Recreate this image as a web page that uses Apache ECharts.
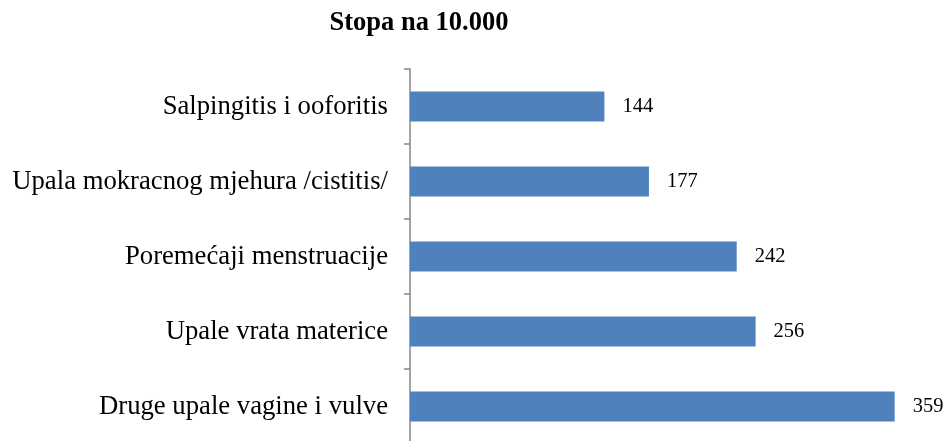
<!DOCTYPE html>
<html>
<head>
<meta charset="utf-8">
<script src="https://cdn.jsdelivr.net/npm/echarts@6/dist/echarts.min.js"></script>
<style>html,body{margin:0;padding:0;background:#fff}#c{width:949px;height:441px}</style>
</head>
<body>
<div id="c"></div>
<script>
const titleText = 'Stopa na 10.000';
const categories = ['Salpingitis i ooforitis', 'Upala mokracnog mjehura /cistitis/', 'Poremećaji menstruacije', 'Upale vrata materice', 'Druge upale vagine i vulve'];
const values = [144, 177, 242, 256, 359];

const serif = '"Liberation Serif", "Times New Roman", serif';
const chart = echarts.init(document.getElementById('c'), null, {renderer: 'canvas'});
chart.setOption({
  animation: false,
  backgroundColor: '#ffffff',
  title: {
    text: titleText,
    left: 414,
    top: 5,
    textAlign: 'center',
    textStyle: {fontFamily: serif, fontWeight: 'bold', fontSize: 26.5, color: '#000'}
  },
  grid: {left: 410, top: 69, width: 540, height: 375, containLabel: false, outerBoundsMode: 'none'},
  xAxis: {type: 'value', min: 0, max: 400, show: false},
  yAxis: {
    type: 'category',
    data: categories,
    inverse: true,
    axisLine: {show: true, lineStyle: {color: '#868686', width: 1.5}},
    axisTick: {show: true, length: 6, lineStyle: {color: '#868686', width: 1.5}},
    axisLabel: {margin: 22, fontFamily: serif, fontSize: 26.7, color: '#000'},
    splitLine: {show: false}
  },
  series: [{
    type: 'bar',
    data: values,
    barCategoryGap: '60%',
    itemStyle: {color: '#4F81BD'},
    label: {show: true, position: 'right', distance: 18, fontFamily: serif, fontSize: 20.5, color: '#000'}
  }]
});
</script>
</body>
</html>
